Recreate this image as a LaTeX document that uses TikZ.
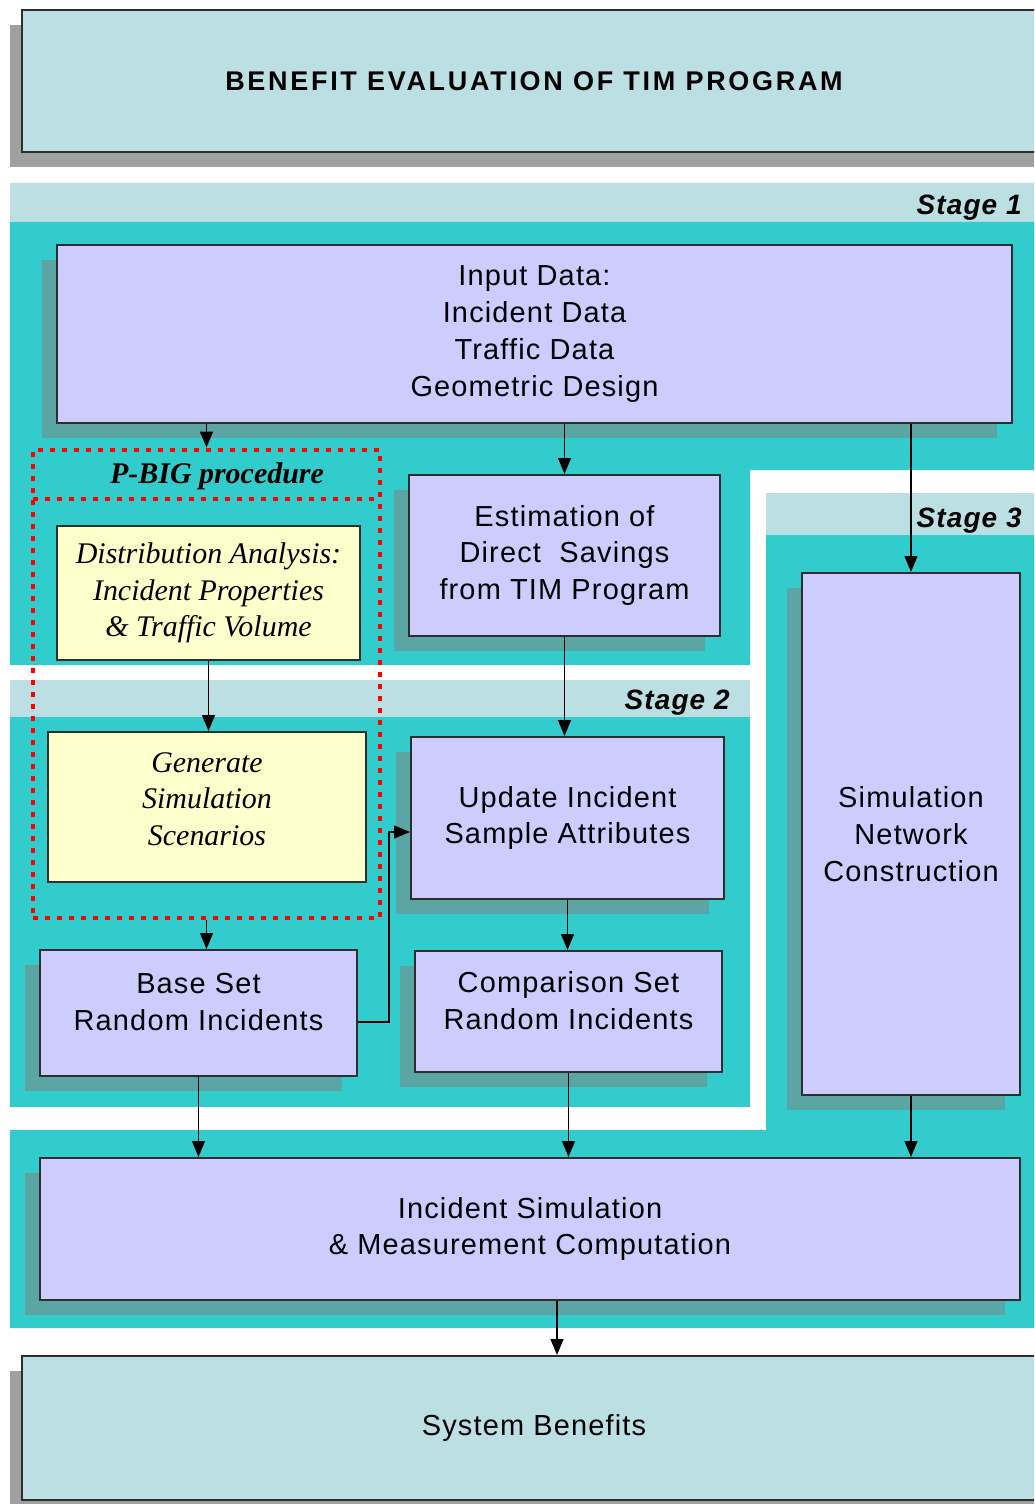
\documentclass[tikz,border=0pt]{standalone}
\usepackage{fontspec}
\setmainfont{Liberation Sans}
\newfontfamily\boxfont[LetterSpace=4]{Liberation Sans}
\newfontfamily\headfont[LetterSpace=10]{Liberation Sans}
\newfontfamily\pbigfont{Liberation Serif}
\usetikzlibrary{arrows.meta,calc,shadows}

\definecolor{bandblue}{HTML}{BBDFE2}
\definecolor{panelteal}{HTML}{33CCCC}
\definecolor{boxlilac}{HTML}{CCCCFF}
\definecolor{boxyellow}{HTML}{FFFFCC}
\definecolor{tealshade}{HTML}{5BA5A5}
\definecolor{greyshade}{HTML}{A0A0A0}
\definecolor{boxline}{HTML}{2E2E2E}

\newcommand\boxsize{\fontsize{20.6pt}{26.3pt}\selectfont}
\newcommand\titlesize{\fontsize{19.2pt}{23pt}\selectfont}
\newcommand\stagesize{\fontsize{19.9pt}{24pt}\selectfont}
\newcommand\italsize{\fontsize{21.3pt}{26pt}\selectfont}

\begin{document}
\begin{tikzpicture}[x=.25mm,y=-.25mm,
	box/.style={draw=boxline,line width=1.4pt,fill=#1,inner sep=0pt,align=center,font=\boxfont\boxsize},
	sz/.style 2 args={minimum width=#1*.25mm,minimum height=#2*.25mm},
	tshadow/.style={drop shadow={shadow xshift=-3.75mm,shadow yshift=-3.75mm,fill=tealshade,opacity=1}},
	gshadow/.style={drop shadow={shadow xshift=-3mm,shadow yshift=-3.75mm,fill=greyshade,opacity=1}},
	ital/.style={font=\pbigfont\itshape\italsize},
	stage/.style={anchor=east,inner sep=0pt,font=\boxfont\bfseries\itshape\stagesize},
	arr/.style={-{Triangle[length=4mm,width=3.2mm]},line width=1.3pt},
	dots/.style={draw=red,line width=1.2mm,dash pattern=on 1.2mm off 1.8mm}]
	\useasboundingbox (0,0) rectangle (1034,1504);
	\clip (0,0) rectangle (1034,1504);
	% stage panels
	\fill[bandblue] (10,183) rectangle (1034,222) (10,680) rectangle (750,717) (766,493) rectangle (1034,535);
	\fill[panelteal] (10,222) -- (1034,222) -- (1034,470) -- (750,470) -- (750,665) -- (10,665) -- cycle;
	\fill[panelteal] (10,717) rectangle (750,1107);
	\fill[panelteal] (766,535) -- (1034,535) -- (1034,1328) -- (10,1328) -- (10,1130) -- (766,1130) -- cycle;
	\node[stage] (stage1) at (1022,208) {Stage 1};
	\node[stage] (stage2) at (730,703) {Stage 2};
	\node[stage] (stage3) at (1022,521) {Stage 3};
	% boxes
	\node[box=bandblue,gshadow,sz={1024}{142},font=\headfont\bfseries\titlesize] (title) at (534,81) {BENEFIT EVALUATION OF TIM PROGRAM};
	\node[box=boxlilac,tshadow,sz={955}{178}] (input) at (534.5,334) {Input Data:\\Incident Data\\Traffic Data\\Geometric Design};
	\node[box=boxlilac,tshadow,sz={311}{161}] (estim) at (564.5,555.5) {Estimation of\\Direct\ \ Savings\\from TIM Program};
	\node[box=boxlilac,tshadow,sz={313}{162}] (update) at (567.5,818) {Update Incident\\Sample Attributes};
	\node[box=boxlilac,tshadow,sz={317}{126},text depth=5.5mm] (base) at (198.5,1013) {Base Set\\Random Incidents};
	\node[box=boxlilac,tshadow,sz={307}{121},text depth=5.5mm] (comp) at (568.5,1011.5) {Comparison Set\\Random Incidents};
	\node[box=boxlilac,tshadow,sz={218}{522}] (simnet) at (911,834) {Simulation\\Network\\Construction};
	\node[box=boxlilac,tshadow,sz={980}{142}] (incsim) at (530,1229) {Incident Simulation\\\& Measurement Computation};
	\node[box=bandblue,gshadow,sz={1024}{144}] (benefit) at (534,1428) {System Benefits};
	\node[box=boxyellow,ital,sz={303}{134}] (dist) at (208.5,593) {Distribution Analysis:\\Incident Properties\\\& Traffic Volume};
	\node[box=boxyellow,ital,sz={318}{150},text depth=4mm] (gen) at (207,807) {Generate\\Simulation\\Scenarios};
	% P-BIG frame
	\node[dots,inner sep=0pt,sz={347}{468}] (pbig) at (206.5,684) {};
	\draw[dots] (33,499) -- (380,499);
	\node[font=\pbigfont\bfseries\itshape\italsize] (pbiglabel) at (217,476) {P-BIG procedure};
	% connectors
	\draw[arr] (input.south -| pbig.north) -- (pbig.north);
	\draw[arr] (input.south -| estim.north) -- (estim.north);
	\draw[arr] (input.south -| simnet.north) -- (simnet.north);
	\draw[arr] (dist.south) -- (dist.south |- gen.north);
	\draw[arr] (pbig.south) -- (pbig.south |- base.north);
	\draw[arr] (estim.south) -- (estim.south |- update.north);
	\draw[arr] (update.south) -- (update.south |- comp.north);
	\draw[arr] ([yshift=-2.25mm]base.east) -- ++(31,0) |- ([yshift=-3.5mm]update.west);
	\foreach \n in {base,comp,simnet} \draw[arr] (\n.south) -- (\n.south |- incsim.north);
	\draw[arr] ([xshift=6.75mm]incsim.south) -- ([xshift=6.75mm]incsim.south |- benefit.north);
\end{tikzpicture}
\end{document}
